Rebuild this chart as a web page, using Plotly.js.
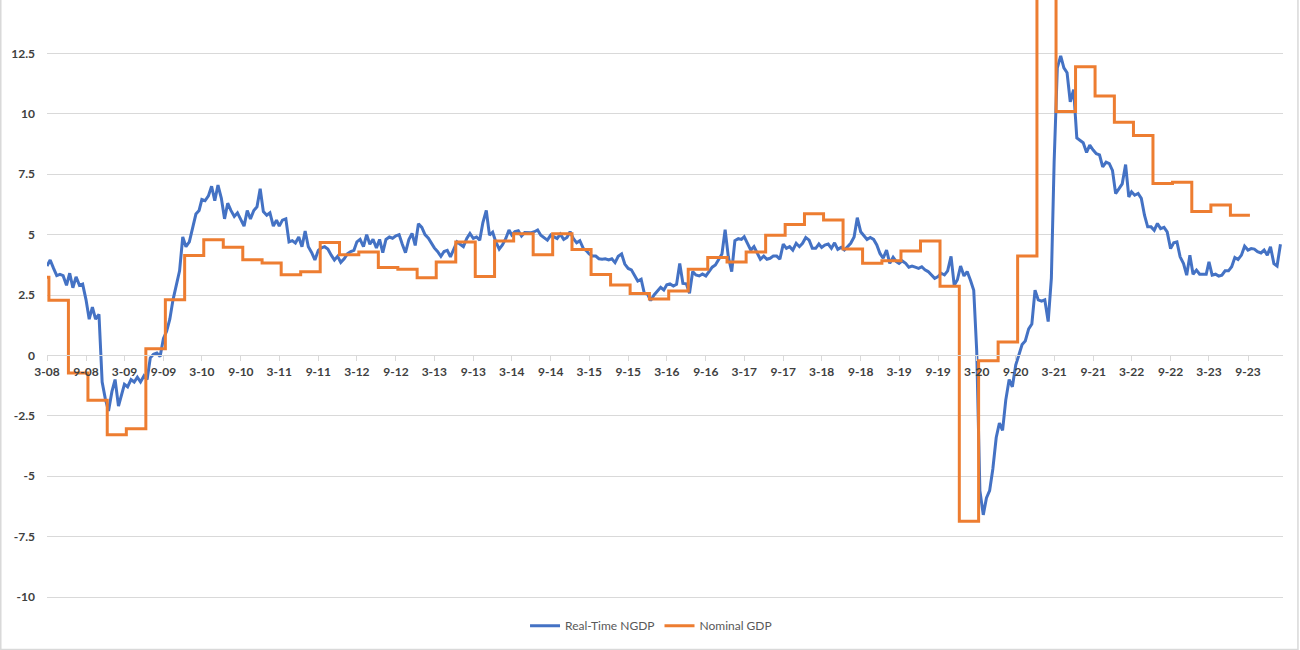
<!DOCTYPE html>
<html>
<head>
<meta charset="utf-8">
<script src="https://cdn.plot.ly/plotly-3.0.1.min.js"></script>
<style>
  body { margin: 0; background: #ffffff; }
  #chart { width: 1300px; height: 650px; }
</style>
</head>
<body>
<div id="chart"></div>
<script>
// tick labels along the x axis (month-year)
const tickLabels = ['3-08', '9-08', '3-09', '9-09', '3-10', '9-10', '3-11', '9-11',
    '3-12', '9-12', '3-13', '9-13', '3-14', '9-14', '3-15', '9-15',
    '3-16', '9-16', '3-17', '9-17', '3-18', '9-18', '3-19', '9-19',
    '3-20', '9-20', '3-21', '9-21', '3-22', '9-22', '3-23', '9-23'];

const yTickVals = [12.5, 10, 7.5, 5, 2.5, 0, -2.5, -5, -7.5, -10];
const yTickText = ['12.5', '10', '7.5', '5', '2.5', '0', '-2.5', '-5', '-7.5', '-10'];

// Real-Time NGDP, read twice a month (1st and 16th) starting March 2008
const realTimeStart = '2008-03-01';
const realTimeNgdp = [
    // 2008-03 .. 2009-02
    3.7, 3.95, 3.6, 3.3, 3.35, 3.3, 2.9, 3.4, 2.8, 3.25, 2.9, 2.95,
    2.3, 1.5, 2.0, 1.5, 1.7, -1.1, -1.8, -2.3, -1.5, -1.0, -2.1, -1.6,
    // 2009-03 .. 2010-02
    -1.2, -1.3, -1.0, -1.1, -0.9, -1.1, -0.85, -1.0, -0.1, 0.05, 0.1, -0.05,
    0.7, 1.0, 1.5, 2.3, 2.9, 3.5, 4.9, 4.5, 4.7, 5.2, 5.85, 6.0,
    // 2010-03 .. 2011-02
    6.45, 6.4, 6.6, 7.0, 6.4, 7.05, 6.5, 5.65, 6.3, 6.0, 5.75, 5.9,
    5.6, 5.35, 6.0, 5.65, 6.0, 6.15, 6.9, 5.95, 5.8, 5.9, 5.35, 5.6,
    // 2011-03 .. 2012-02
    5.35, 5.6, 5.65, 4.7, 4.75, 4.65, 4.9, 4.5, 5.15, 4.5, 4.25, 3.95,
    4.35, 4.45, 4.5, 4.4, 4.15, 3.95, 4.1, 3.85, 4.0, 4.2, 4.3, 4.35,
    // 2012-03 .. 2013-02
    4.7, 4.8, 4.5, 5.0, 4.6, 4.8, 4.45, 4.8, 4.25, 4.8, 4.9, 4.85,
    4.95, 5.0, 4.6, 4.25, 4.8, 5.05, 4.55, 5.45, 5.3, 5.0, 4.85, 4.6,
    // 2013-03 .. 2014-02
    4.45, 4.3, 4.1, 4.3, 4.35, 4.08, 4.43, 4.7, 4.6, 4.5, 4.84, 5.05,
    4.84, 4.9, 4.77, 5.5, 6.0, 4.98, 5.1, 4.7, 4.4, 4.57, 4.84, 5.19,
    // 2014-03 .. 2015-02
    4.98, 5.12, 5.16, 4.94, 5.09, 5.08, 5.08, 5.12, 5.19, 4.97, 4.88, 4.77,
    4.98, 4.91, 4.84, 5.02, 4.8, 4.88, 5.12, 4.84, 4.66, 4.75, 4.43, 4.33,
    // 2015-03 .. 2016-02
    4.2, 4.11, 4.11, 4.0, 3.98, 4.0, 3.95, 4.0, 3.84, 4.1, 4.2, 3.78,
    3.6, 3.54, 3.29, 3.08, 3.15, 2.57, 2.54, 2.27, 2.5, 2.68, 2.82, 2.71,
    // 2016-03 .. 2017-02
    2.92, 2.96, 2.87, 2.94, 3.8, 2.98, 2.96, 2.57, 3.47, 3.33, 3.29, 3.37,
    3.29, 3.47, 3.65, 3.74, 3.95, 4.2, 5.2, 4.08, 3.47, 4.75, 4.83, 4.8,
    // 2017-03 .. 2018-02
    4.91, 4.64, 4.36, 4.5, 4.22, 3.98, 4.11, 3.98, 4.02, 4.11, 4.11, 3.98,
    4.61, 4.43, 4.5, 4.36, 4.64, 4.5, 4.64, 4.88, 4.77, 4.43, 4.43, 4.61,
    // 2018-03 .. 2019-02
    4.47, 4.57, 4.61, 4.43, 4.66, 4.39, 4.47, 4.36, 4.5, 4.64, 4.9, 5.7,
    5.12, 4.98, 4.8, 4.88, 4.8, 4.57, 4.22, 4.02, 4.36, 3.81, 4.06, 3.88,
    // 2019-03 .. 2020-02
    3.81, 3.91, 3.81, 3.65, 3.7, 3.65, 3.6, 3.67, 3.54, 3.47, 3.33, 3.19,
    3.26, 3.4, 3.33, 3.5, 4.1, 2.9, 3.13, 3.7, 3.29, 3.47, 3.1, 2.7,
    // 2020-03 .. 2021-02
    0.2, -5.6, -6.6, -5.9, -5.6, -4.7, -3.4, -2.8, -3.1, -1.85, -1.0, -1.3,
    -0.4, 0.0, 0.45, 0.6, 1.1, 1.3, 2.7, 2.3, 2.25, 2.3, 1.4, 3.2,
    // 2021-03 .. 2022-02
    8.0, 11.9, 12.4, 11.9, 11.7, 10.5, 11.0, 9.0, 8.9, 8.8, 8.4, 8.7,
    8.5, 8.35, 8.3, 7.8, 8.0, 7.94, 7.66, 6.7, 6.9, 7.1, 7.9, 6.56,
    // 2022-03 .. 2023-02
    6.77, 6.63, 6.7, 6.5, 5.8, 5.32, 5.32, 5.18, 5.46, 5.25, 5.3, 5.11,
    4.42, 4.66, 4.7, 4.08, 3.8, 3.32, 4.15, 3.36, 3.53, 3.36, 3.36, 3.36,
    // 2023-03 .. 2024-02
    3.87, 3.32, 3.36, 3.28, 3.32, 3.5, 3.5, 3.67, 4.05, 3.97, 4.15, 4.52,
    4.36, 4.42, 4.4, 4.29, 4.24, 4.36, 4.15, 4.5, 3.8, 3.7, 4.6
];

// Nominal GDP, quarterly figure that holds until the next release
const nominalDates = [
    '2008-03-01', '2008-03-10', '2008-06-10', '2008-09-10', '2008-12-10',
    '2009-03-10', '2009-06-10', '2009-09-10', '2009-12-10',
    '2010-03-10', '2010-06-10', '2010-09-10', '2010-12-10',
    '2011-03-10', '2011-06-10', '2011-09-10', '2011-12-10',
    '2012-03-10', '2012-06-10', '2012-09-10', '2012-12-10',
    '2013-03-10', '2013-06-10', '2013-09-10', '2013-12-10',
    '2014-03-10', '2014-06-10', '2014-09-10', '2014-12-10',
    '2015-03-10', '2015-06-10', '2015-09-10', '2015-12-10',
    '2016-03-10', '2016-06-10', '2016-09-10', '2016-12-10',
    '2017-03-10', '2017-06-10', '2017-09-10', '2017-12-10',
    '2018-03-10', '2018-06-10', '2018-09-10', '2018-12-10',
    '2019-03-10', '2019-06-10', '2019-09-10', '2019-12-10',
    '2020-03-10', '2020-06-10', '2020-09-10', '2020-12-10',
    '2021-03-10', '2021-06-10', '2021-09-10', '2021-12-10',
    '2022-03-10', '2022-06-10', '2022-09-10', '2022-12-10',
    '2023-03-10', '2023-06-10', '2023-09-10'
];
const nominalGdp = [
    3.23, 2.28, -0.73, -1.86, -3.28,
    -3.04, 0.28, 2.30, 4.14,
    4.79, 4.48, 3.96, 3.82,
    3.34, 3.46, 4.67, 4.17,
    4.28, 3.64, 3.57, 3.21,
    3.87, 4.69, 3.27, 4.73,
    5.04, 4.17, 5.04, 4.38,
    3.35, 2.91, 2.56, 2.33,
    2.67, 3.57, 4.05, 3.87,
    4.28, 4.97, 5.42, 5.86,
    5.60, 4.40, 3.81, 3.92,
    4.32, 4.74, 2.86, -6.86,
    -0.22, 0.55, 4.11, 17.0,
    10.1, 11.95, 10.74, 9.65,
    9.1, 7.12, 7.17, 5.96,
    6.22, 5.80, 5.80
];

function pad(n) { return n < 10 ? '0' + n : '' + n; }

// dates for the twice-a-month series
const startYear = parseInt(realTimeStart.slice(0, 4));
const startMonth = parseInt(realTimeStart.slice(5, 7)) - 1;
const realTimeDates = realTimeNgdp.map(function(v, i) {
    const m = startMonth + Math.floor(i / 2);
    const y = startYear + Math.floor(m / 12);
    return y + '-' + pad(m % 12 + 1) + '-' + (i % 2 ? '16' : '01');
});

// "3-08" -> "2008-03-01"
const tickDates = tickLabels.map(function(t) {
    const parts = t.split('-');
    return '20' + parts[1] + '-' + pad(parseInt(parts[0])) + '-01';
});

const yMin = -10.124, yMax = 14.71;

const data = [{
    x: realTimeDates,
    y: realTimeNgdp,
    name: 'Real-Time NGDP',
    type: 'scatter',
    mode: 'lines',
    line: { color: '#4472C4', width: 3 }
}, {
    x: nominalDates,
    y: nominalGdp,
    name: 'Nominal GDP',
    type: 'scatter',
    mode: 'lines',
    line: { color: '#ED7D31', width: 3, shape: 'hv' }
}];

const layout = {
    width: 1300,
    height: 650,
    autosize: false,
    margin: { l: 47, r: 17, t: 0, b: 50 },
    paper_bgcolor: '#ffffff',
    plot_bgcolor: '#ffffff',
    font: { family: 'Lato, "Open Sans", sans-serif', size: 12, color: '#595959' },
    showlegend: true,
    legend: {
        orientation: 'h',
        x: 0.4887,
        xanchor: 'center',
        y: -0.043,
        yanchor: 'middle',
        font: { family: 'Lato, "Open Sans", sans-serif', size: 12, color: '#595959' },
        bgcolor: 'rgba(0,0,0,0)'
    },
    xaxis: {
        type: 'date',
        range: ['2008-03-01', '2024-02-13'],
        anchor: 'free',
        position: (0 - yMin) / (yMax - yMin),
        showgrid: false,
        zeroline: false,
        showline: true,
        linecolor: '#d9d9d9',
        linewidth: 1,
        ticks: 'outside',
        ticklen: 5,
        tickcolor: '#d9d9d9',
        tickvals: tickDates,
        ticktext: tickLabels,
        tickangle: 0,
        tickfont: { family: 'Lato, "Open Sans", sans-serif', size: 12, color: '#404040', weight: 'bold' }
    },
    yaxis: {
        range: [yMin, yMax],
        showgrid: true,
        gridcolor: '#d9d9d9',
        gridwidth: 1,
        zeroline: false,
        showline: false,
        ticks: '',
        tickvals: yTickVals,
        ticktext: yTickText,
        ticklabelstandoff: 11,
        tickfont: { family: 'Lato, "Open Sans", sans-serif', size: 12, color: '#404040', weight: 'bold' }
    },
    shapes: [{
        // outer frame of the chart area
        type: 'rect',
        xref: 'paper',
        yref: 'paper',
        x0: -0.0374, x1: 1.0121,
        y0: -0.0825, y1: 1.01,
        line: { color: '#d9d9d9', width: 1.5 },
        fillcolor: 'rgba(0,0,0,0)',
        layer: 'below'
    }]
};

Plotly.newPlot('chart', data, layout, { staticPlot: true, displayModeBar: false });
</script>
</body>
</html>
